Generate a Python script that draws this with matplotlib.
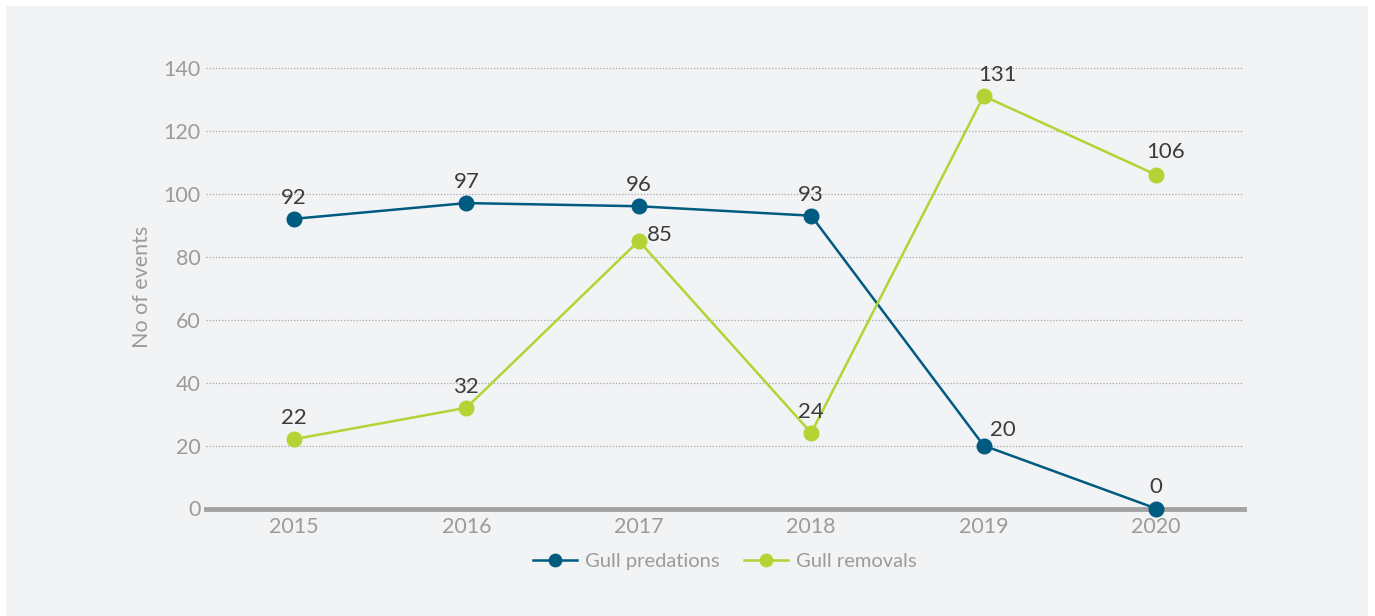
import matplotlib
matplotlib.use("Agg")
import matplotlib.pyplot as plt
from matplotlib.patches import Rectangle

# ── Data ────────────────────────────────────────────────────────────────────
years = [2015, 2016, 2017, 2018, 2019, 2020]
predations = [92, 97, 96, 93, 20, 0]
removals = [22, 32, 85, 24, 131, 106]

# label offsets (points) per data point, to mirror the reference placement
pred_offsets = [(0, 8), (0, 8), (0, 8), (0, 8), (14, 4), (0, 8)]
rem_offsets = [(0, 8), (0, 8), (15, -3), (0, 8), (10, 8), (7, 9)]

ytick_vals = [0, 20, 40, 60, 80, 100, 120, 140]

BLUE = "#005b80"
LIME = "#b4d334"
PANEL = "#f2f3f5"
TICK = "#9b9b9b"
LABEL = "#3c3c3c"

plt.rcParams["font.family"] = ["Lato", "DejaVu Sans"]

fig = plt.figure(figsize=(13.75, 6.16), dpi=100)
fig.patch.set_facecolor("white")
fig.patches.append(Rectangle((6 / 1375, 0), 1362 / 1375, 610 / 616,
                             transform=fig.transFigure, facecolor=PANEL,
                             edgecolor="none", zorder=-10))

ax = fig.add_axes([206 / 1375, 1 - 508.5 / 616, 1038 / 1375, (508.5 - 67.7) / 616 * 141 / 140])
ax.set_facecolor("none")

ax.plot(years, predations, color=BLUE, lw=1.8, marker="o", ms=10.5, zorder=3,
        clip_on=False, label="Gull predations")
ax.plot(years, removals, color=LIME, lw=1.8, marker="o", ms=10.5, zorder=3,
        clip_on=False, label="Gull removals")

for x, y, off in zip(years, predations, pred_offsets):
    ax.annotate(str(y), (x, y), xytext=off, textcoords="offset points",
                ha="center", va="bottom", fontsize=16, color=LABEL)
for x, y, off in zip(years, removals, rem_offsets):
    ax.annotate(str(y), (x, y), xytext=off, textcoords="offset points",
                ha="center", va="bottom", fontsize=16, color=LABEL)

ax.set_xlim(2014.49, 2020.51)
ax.set_ylim(0, 141)
ax.set_xticks(years)
ax.set_yticks(ytick_vals)
ax.tick_params(axis="both", length=0, labelsize=15.5, labelcolor=TICK)
ax.tick_params(axis="x", pad=6)
ax.tick_params(axis="y", pad=4)

ax.grid(axis="y", color="#a8a8a8", linestyle=(0, (1, 1.5)), linewidth=0.9)
ax.set_axisbelow(True)
for side in ["top", "right", "left"]:
    ax.spines[side].set_visible(False)
ax.spines["bottom"].set_color("#a3a3a3")
ax.spines["bottom"].set_linewidth(3.5)
ax.spines["bottom"].set_zorder(2)

ax.set_ylabel("No of events", fontsize=15.5, color=TICK, labelpad=8)

leg = ax.legend(loc="upper center", bbox_to_anchor=(0.5, -0.06), ncol=2,
                frameon=False, fontsize=14.5, handlelength=2.2, handletextpad=0.4,
                columnspacing=1.2, markerscale=0.85)
for t in leg.get_texts():
    t.set_color(TICK)

fig.savefig("out.png", dpi=100, facecolor=fig.get_facecolor())
